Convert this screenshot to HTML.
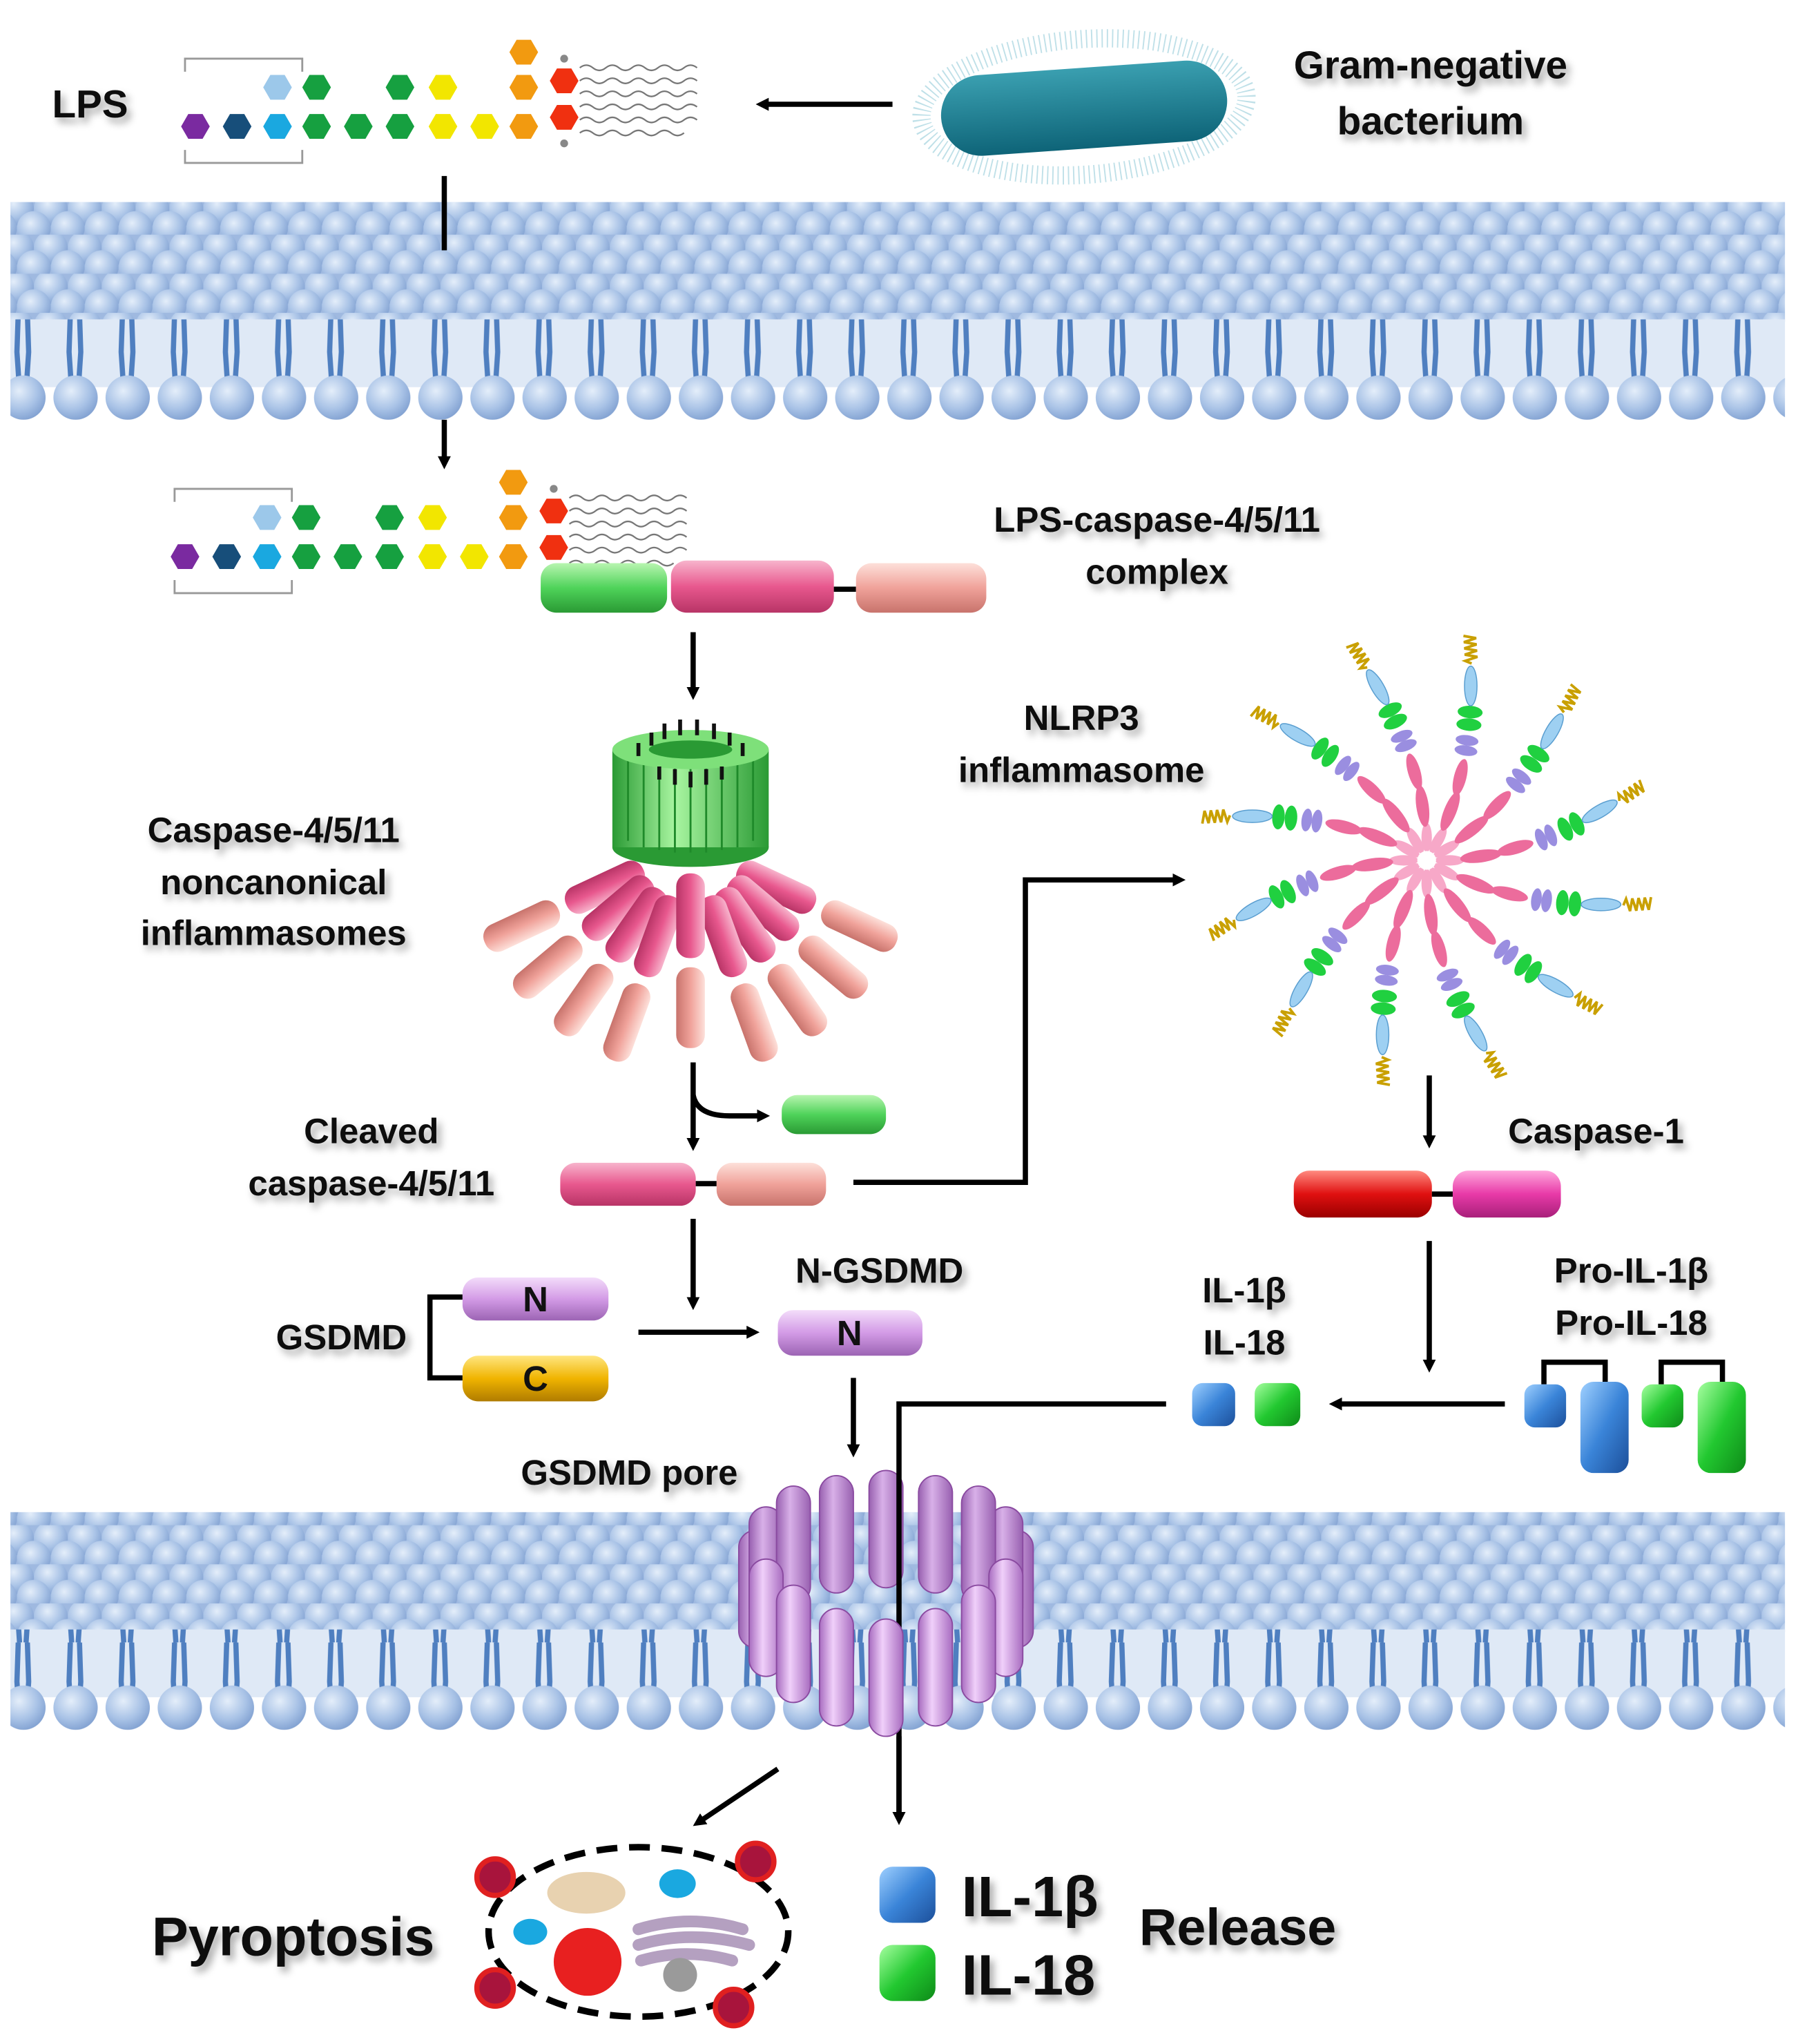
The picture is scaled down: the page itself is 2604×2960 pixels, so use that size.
<!DOCTYPE html>
<html><head><meta charset="utf-8"><style>
html,body{margin:0;padding:0;background:#fff}
svg{display:block}
text{font-family:"Liberation Sans",sans-serif;font-weight:bold;fill:#111}
</style></head><body>
<svg width="2604" height="2960" viewBox="0 0 1380 1568" preserveAspectRatio="none" xmlns="http://www.w3.org/2000/svg">
<defs>
<radialGradient id="ball" cx="0.4" cy="0.35" r="0.7"><stop offset="0" stop-color="#e4eefa"/><stop offset="0.6" stop-color="#a8c2e6"/><stop offset="1" stop-color="#7f9fd0"/></radialGradient>
<pattern id="heads" width="26" height="30" patternUnits="userSpaceOnUse">
<rect width="26" height="30" fill="#9fb9e0"/>
<circle cx="13" cy="10" r="13" fill="url(#ball)"/>
<circle cx="0" cy="25" r="13" fill="url(#ball)"/><circle cx="26" cy="25" r="13" fill="url(#ball)"/>
</pattern>
<pattern id="tails" width="40" height="60" patternUnits="userSpaceOnUse">
<rect width="40" height="60" fill="#dfe9f6"/>
<path d="M14 0 L13 30 L15 60 M21 0 L22 30 L20 60" stroke="#4f7fc0" stroke-width="4" fill="none"/>
</pattern>
<pattern id="bheads" y="285" width="40" height="40" patternUnits="userSpaceOnUse">
<circle cx="18" cy="20" r="17" fill="url(#ball)"/>
</pattern>
<pattern id="bheads2" y="1290" width="40" height="40" patternUnits="userSpaceOnUse">
<circle cx="18" cy="20" r="17" fill="url(#ball)"/>
</pattern>
<filter id="sh" x="-10%" y="-20%" width="130%" height="160%"><feDropShadow dx="3" dy="4" stdDeviation="3" flood-color="#000" flood-opacity="0.35"/></filter>
<linearGradient id="gG" x1="0" y1="0" x2="0" y2="1"><stop offset="0" stop-color="#b8f5b0"/><stop offset="0.5" stop-color="#4fd35a"/><stop offset="1" stop-color="#2a9a34"/></linearGradient>
<linearGradient id="gP" x1="0" y1="0" x2="0" y2="1"><stop offset="0" stop-color="#f7b4cc"/><stop offset="0.5" stop-color="#e8588e"/><stop offset="1" stop-color="#b83466"/></linearGradient>
<linearGradient id="gL" x1="0" y1="0" x2="0" y2="1"><stop offset="0" stop-color="#fde0da"/><stop offset="0.5" stop-color="#f0a29a"/><stop offset="1" stop-color="#c8736c"/></linearGradient>
<linearGradient id="gR" x1="0" y1="0" x2="0" y2="1"><stop offset="0" stop-color="#ff8a80"/><stop offset="0.5" stop-color="#e01010"/><stop offset="1" stop-color="#9a0000"/></linearGradient>
<linearGradient id="gM" x1="0" y1="0" x2="0" y2="1"><stop offset="0" stop-color="#ffa6dc"/><stop offset="0.5" stop-color="#e83aa8"/><stop offset="1" stop-color="#a8207a"/></linearGradient>
<linearGradient id="gV" x1="0" y1="0" x2="0" y2="1"><stop offset="0" stop-color="#f3dcfa"/><stop offset="0.5" stop-color="#d39be6"/><stop offset="1" stop-color="#9c64b4"/></linearGradient>
<linearGradient id="gVx" x1="0" y1="0" x2="1" y2="0"><stop offset="0" stop-color="#a86cc0"/><stop offset="0.4" stop-color="#f0d0fa"/><stop offset="1" stop-color="#a86cc0"/></linearGradient>
<linearGradient id="gVb" x1="0" y1="0" x2="1" y2="0"><stop offset="0" stop-color="#9860b0"/><stop offset="0.4" stop-color="#d8b0e8"/><stop offset="1" stop-color="#9860b0"/></linearGradient>
<linearGradient id="gY" x1="0" y1="0" x2="0" y2="1"><stop offset="0" stop-color="#ffe680"/><stop offset="0.5" stop-color="#f0b400"/><stop offset="1" stop-color="#b07c00"/></linearGradient>
<linearGradient id="gB" x1="0" y1="0" x2="1" y2="1"><stop offset="0" stop-color="#9fd0ff"/><stop offset="0.5" stop-color="#3a84d8"/><stop offset="1" stop-color="#1c4f9a"/></linearGradient>
<linearGradient id="gGr" x1="0" y1="0" x2="1" y2="1"><stop offset="0" stop-color="#a6ffa0"/><stop offset="0.5" stop-color="#22c830"/><stop offset="1" stop-color="#0e8a18"/></linearGradient>
<linearGradient id="gGx" x1="0" y1="0" x2="1" y2="0"><stop offset="0" stop-color="#2a9a34"/><stop offset="0.4" stop-color="#a8f5a0"/><stop offset="1" stop-color="#2a9a34"/></linearGradient>
<linearGradient id="teal" x1="0" y1="0" x2="0" y2="1"><stop offset="0" stop-color="#3a9fb0"/><stop offset="1" stop-color="#0e6478"/></linearGradient>
<marker id="ah" markerWidth="10" markerHeight="10" refX="5" refY="5" orient="auto" markerUnits="userSpaceOnUse" viewBox="0 0 10 10"><path d="M0 0 L10 5 L0 10 Z" fill="#000"/></marker>
<g id="arm">
 <ellipse cx="22" cy="0" rx="14" ry="5" fill="#f7a8c8"/>
 <ellipse cx="52" cy="-4" rx="20" ry="6" fill="#ec6c9c" transform="rotate(-8 52 -4)"/>
 <ellipse cx="85" cy="-12" rx="18" ry="6" fill="#ec6c9c" transform="rotate(-16 85 -12)"/>
 <ellipse cx="110" cy="-20" rx="5" ry="11" fill="#9a8ee0" transform="rotate(-22 110 -20)"/>
 <ellipse cx="119" cy="-24" rx="5" ry="11" fill="#9a8ee0" transform="rotate(-22 119 -24)"/>
 <ellipse cx="133" cy="-30" rx="6" ry="12" fill="#20d040" transform="rotate(-26 133 -30)"/>
 <ellipse cx="144" cy="-35" rx="6" ry="12" fill="#20d040" transform="rotate(-26 144 -35)"/>
 <ellipse cx="166" cy="-47" rx="19" ry="6" fill="#9ed0f2" stroke="#5a9ed0" stroke-width="1" transform="rotate(-30 166 -47)"/>
 <path d="M185 -57 l3 -6 l3 12 l3 -12 l3 12 l3 -12 l3 12 l3 -12 l3 12 l3 -12" stroke="#c9a000" stroke-width="2.5" fill="none" transform="rotate(-34 185 -57)"/>
</g>
<g id="hex"><polygon points="-11,0 -5.5,-9.5 5.5,-9.5 11,0 5.5,9.5 -5.5,9.5"/></g>
</defs>

<rect width="1380" height="1568" fill="#fff"/>

<!-- top membrane -->
<rect x="8" y="155" width="1362" height="92" fill="url(#heads)"/>
<rect x="8" y="245" width="1362" height="52" fill="url(#tails)"/>
<rect x="8" y="287" width="1362" height="36" fill="url(#bheads)"/>
<!-- bottom membrane -->
<rect x="8" y="1160" width="1362" height="92" fill="url(#heads)"/>
<rect x="8" y="1250" width="1362" height="52" fill="url(#tails)"/>
<rect x="8" y="1292" width="1362" height="36" fill="url(#bheads2)"/>

<!-- LPS top -->
<text x="40" y="90" font-size="30" filter="url(#sh)">LPS</text>
<g id="lps">
<path d="M142 55 V45 H232 V55 M142 115 V125 H232 V115" stroke="#999" stroke-width="1.5" fill="none"/>
<use href="#hex" x="150" y="97" fill="#7a2aa0"/>
<use href="#hex" x="182" y="97" fill="#174e7a"/>
<use href="#hex" x="213" y="97" fill="#1aa8e0"/>
<use href="#hex" x="213" y="67" fill="#9cc8ea"/>
<use href="#hex" x="243" y="97" fill="#16a040"/>
<use href="#hex" x="243" y="67" fill="#16a040"/>
<use href="#hex" x="275" y="97" fill="#16a040"/>
<use href="#hex" x="307" y="97" fill="#16a040"/>
<use href="#hex" x="307" y="67" fill="#16a040"/>
<use href="#hex" x="340" y="97" fill="#f2e600"/>
<use href="#hex" x="340" y="67" fill="#f2e600"/>
<use href="#hex" x="372" y="97" fill="#f2e600"/>
<use href="#hex" x="402" y="97" fill="#f29a10"/>
<use href="#hex" x="402" y="67" fill="#f29a10"/>
<use href="#hex" x="402" y="40" fill="#f29a10"/>
<use href="#hex" x="433" y="62" fill="#f03010"/>
<use href="#hex" x="433" y="90" fill="#f03010"/>
<circle cx="433" cy="45" r="3" fill="#888"/><circle cx="433" cy="110" r="3" fill="#888"/>
<path d="M445 52 q5 -4 10 0 t10 0 t10 0 t10 0 t10 0 t10 0 t10 0 t10 0 t10 0 M445 62 q5 -4 10 0 t10 0 t10 0 t10 0 t10 0 t10 0 t10 0 t10 0 t10 0 M445 72 q5 -4 10 0 t10 0 t10 0 t10 0 t10 0 t10 0 t10 0 t10 0 t10 0 M445 82 q5 -4 10 0 t10 0 t10 0 t10 0 t10 0 t10 0 t10 0 t10 0 t10 0 M445 92 q5 -4 10 0 t10 0 t10 0 t10 0 t10 0 t10 0 t10 0 t10 0 t10 0 M445 102 q5 -4 10 0 t10 0 t10 0 t10 0 t10 0 t10 0 t10 0 t10 0" stroke="#777" stroke-width="1.2" fill="none"/>
</g>
<line x1="685" y1="80" x2="585" y2="80" stroke="#000" stroke-width="4" marker-end="url(#ah)"/>
<!-- bacterium -->
<g transform="rotate(-4 832 82)">
<ellipse cx="832" cy="82" rx="125" ry="52" fill="none" stroke="#bfe0e8" stroke-width="14" stroke-dasharray="1 3"/>
<rect x="722" y="52" width="220" height="62" rx="31" fill="url(#teal)"/>
</g>
<text x="1098" y="60" font-size="30" text-anchor="middle" filter="url(#sh)">Gram-negative</text>
<text x="1098" y="103" font-size="30" text-anchor="middle" filter="url(#sh)">bacterium</text>

<line x1="341" y1="135" x2="341" y2="192" stroke="#000" stroke-width="4"/>
<line x1="341" y1="322" x2="341" y2="355" stroke="#000" stroke-width="4" marker-end="url(#ah)"/>

<use href="#lps" transform="translate(-8 330)"/>

<!-- complex -->
<rect x="415" y="432" width="97" height="38" rx="12" fill="url(#gG)"/>
<rect x="515" y="430" width="125" height="40" rx="12" fill="url(#gP)"/>
<line x1="640" y1="452" x2="657" y2="452" stroke="#000" stroke-width="4"/>
<rect x="657" y="432" width="100" height="38" rx="12" fill="url(#gL)"/>
<text x="888" y="408" font-size="27" text-anchor="middle" filter="url(#sh)">LPS-caspase-4/5/11</text>
<text x="888" y="448" font-size="27" text-anchor="middle" filter="url(#sh)">complex</text>

<line x1="532" y1="485" x2="532" y2="532" stroke="#000" stroke-width="4" marker-end="url(#ah)"/>

<!-- noncanonical inflammasome -->
<g>
<g transform="translate(530 650) rotate(25)"><rect x="40" y="-11" width="65" height="22" rx="10" fill="url(#gP)"/><rect x="112" y="-11" width="62" height="22" rx="10" fill="url(#gL)"/></g>
<g transform="translate(530 650) rotate(155)"><rect x="40" y="-11" width="65" height="22" rx="10" fill="url(#gP)"/><rect x="112" y="-11" width="62" height="22" rx="10" fill="url(#gL)"/></g>
<g transform="translate(530 650) rotate(40)"><rect x="40" y="-11" width="65" height="22" rx="10" fill="url(#gP)"/><rect x="112" y="-11" width="62" height="22" rx="10" fill="url(#gL)"/></g>
<g transform="translate(530 650) rotate(140)"><rect x="40" y="-11" width="65" height="22" rx="10" fill="url(#gP)"/><rect x="112" y="-11" width="62" height="22" rx="10" fill="url(#gL)"/></g>
<g transform="translate(530 650) rotate(55)"><rect x="40" y="-11" width="65" height="22" rx="10" fill="url(#gP)"/><rect x="112" y="-11" width="62" height="22" rx="10" fill="url(#gL)"/></g>
<g transform="translate(530 650) rotate(125)"><rect x="40" y="-11" width="65" height="22" rx="10" fill="url(#gP)"/><rect x="112" y="-11" width="62" height="22" rx="10" fill="url(#gL)"/></g>
<g transform="translate(530 650) rotate(70)"><rect x="40" y="-11" width="65" height="22" rx="10" fill="url(#gP)"/><rect x="112" y="-11" width="62" height="22" rx="10" fill="url(#gL)"/></g>
<g transform="translate(530 650) rotate(110)"><rect x="40" y="-11" width="65" height="22" rx="10" fill="url(#gP)"/><rect x="112" y="-11" width="62" height="22" rx="10" fill="url(#gL)"/></g>
<g transform="translate(530 650) rotate(90)"><rect x="20" y="-11" width="65" height="22" rx="10" fill="url(#gP)"/><rect x="92" y="-11" width="62" height="22" rx="10" fill="url(#gL)"/></g>
<ellipse cx="530" cy="650" rx="60" ry="15" fill="#2a9a34"/>
<rect x="470" y="575" width="120" height="75" fill="url(#gGx)"/>
<path d="M482 580 V645 M494 582 V650 M506 582 V652 M518 582 V654 M530 582 V654 M542 582 V654 M554 582 V652 M566 582 V650 M578 580 V645" stroke="#1f8a2a" stroke-width="1.5"/>
<ellipse cx="530" cy="575" rx="60" ry="15" fill="#7ee07a"/>
<ellipse cx="530" cy="575" rx="32" ry="7" fill="#2a9a34"/>
<path d="M510 555 v12 M522 552 v12 M535 552 v12 M548 555 v12 M500 562 v10 M560 562 v10 M490 570 v10 M570 570 v10 M518 590 v12 M530 592 v12 M542 590 v12 M506 588 v10 M554 588 v10" stroke="#111" stroke-width="3"/>
</g>
<text x="210" y="646" font-size="27" text-anchor="middle" filter="url(#sh)">Caspase-4/5/11</text>
<text x="210" y="686" font-size="27" text-anchor="middle" filter="url(#sh)">noncanonical</text>
<text x="210" y="725" font-size="27" text-anchor="middle" filter="url(#sh)">inflammasomes</text>

<text x="830" y="560" font-size="27" text-anchor="middle" filter="url(#sh)">NLRP3</text>
<text x="830" y="600" font-size="27" text-anchor="middle" filter="url(#sh)">inflammasome</text>

<!-- NLRP3 starburst -->
<g transform="translate(1095 660) scale(0.8)">
<use href="#arm" transform="rotate(0)"/><use href="#arm" transform="rotate(30)"/><use href="#arm" transform="rotate(60)"/><use href="#arm" transform="rotate(90)"/>
<use href="#arm" transform="rotate(120)"/><use href="#arm" transform="rotate(150)"/><use href="#arm" transform="rotate(180)"/><use href="#arm" transform="rotate(210)"/>
<use href="#arm" transform="rotate(240)"/><use href="#arm" transform="rotate(270)"/><use href="#arm" transform="rotate(300)"/><use href="#arm" transform="rotate(330)"/>
<circle r="9" fill="#fff"/>
</g>

<!-- cleaved -->
<line x1="532" y1="815" x2="532" y2="878" stroke="#000" stroke-width="4" marker-end="url(#ah)"/>
<path d="M532 840 Q535 856 560 856 L586 856" stroke="#000" stroke-width="4" fill="none" marker-end="url(#ah)"/>
<rect x="600" y="840" width="80" height="30" rx="12" fill="url(#gG)"/>
<text x="285" y="877" font-size="27" text-anchor="middle" filter="url(#sh)">Cleaved</text>
<text x="285" y="917" font-size="27" text-anchor="middle" filter="url(#sh)">caspase-4/5/11</text>
<rect x="430" y="892" width="104" height="33" rx="12" fill="url(#gP)"/>
<line x1="534" y1="908" x2="550" y2="908" stroke="#000" stroke-width="4"/>
<rect x="550" y="892" width="84" height="33" rx="12" fill="url(#gL)"/>
<path d="M655 907 H787 V675 H905" stroke="#000" stroke-width="4" fill="none" marker-end="url(#ah)"/>

<!-- caspase-1 -->
<line x1="1097" y1="825" x2="1097" y2="876" stroke="#000" stroke-width="4" marker-end="url(#ah)"/>
<text x="1225" y="877" font-size="27" text-anchor="middle" filter="url(#sh)">Caspase-1</text>
<rect x="993" y="898" width="106" height="36" rx="12" fill="url(#gR)"/>
<line x1="1099" y1="916" x2="1115" y2="916" stroke="#000" stroke-width="4"/>
<rect x="1115" y="898" width="83" height="36" rx="12" fill="url(#gM)"/>
<line x1="1097" y1="952" x2="1097" y2="1048" stroke="#000" stroke-width="4" marker-end="url(#ah)"/>

<text x="1252" y="984" font-size="27" text-anchor="middle" filter="url(#sh)">Pro-IL-1β</text>
<text x="1252" y="1024" font-size="27" text-anchor="middle" filter="url(#sh)">Pro-IL-18</text>
<text x="955" y="999" font-size="27" text-anchor="middle" filter="url(#sh)">IL-1β</text>
<text x="955" y="1039" font-size="27" text-anchor="middle" filter="url(#sh)">IL-18</text>

<path d="M1185 1062 V1045 H1232 V1062 M1275 1062 V1045 H1322 V1062" stroke="#000" stroke-width="4" fill="none"/>
<rect x="1170" y="1062" width="32" height="33" rx="8" fill="url(#gB)"/>
<rect x="1213" y="1060" width="37" height="70" rx="10" fill="url(#gB)"/>
<rect x="1260" y="1062" width="32" height="33" rx="8" fill="url(#gGr)"/>
<rect x="1303" y="1060" width="37" height="70" rx="10" fill="url(#gGr)"/>
<line x1="1155" y1="1077" x2="1025" y2="1077" stroke="#000" stroke-width="4" marker-end="url(#ah)"/>
<rect x="915" y="1061" width="33" height="33" rx="8" fill="url(#gB)"/>
<rect x="963" y="1061" width="35" height="33" rx="8" fill="url(#gGr)"/>

<!-- GSDMD -->
<line x1="532" y1="935" x2="532" y2="1000" stroke="#000" stroke-width="4" marker-end="url(#ah)"/>
<text x="262" y="1035" font-size="27" text-anchor="middle" filter="url(#sh)">GSDMD</text>
<path d="M355 995 H330 V1057 H355" stroke="#000" stroke-width="4" fill="none"/>
<rect x="355" y="980" width="112" height="33" rx="12" fill="url(#gV)"/>
<text x="411" y="1006" font-size="27" text-anchor="middle">N</text>
<rect x="355" y="1040" width="112" height="35" rx="12" fill="url(#gY)"/>
<text x="411" y="1067" font-size="27" text-anchor="middle">C</text>
<line x1="490" y1="1022" x2="578" y2="1022" stroke="#000" stroke-width="4" marker-end="url(#ah)"/>
<text x="675" y="984" font-size="27" text-anchor="middle" filter="url(#sh)">N-GSDMD</text>
<rect x="597" y="1005" width="111" height="35" rx="12" fill="url(#gV)"/>
<text x="652" y="1032" font-size="27" text-anchor="middle">N</text>
<line x1="655" y1="1057" x2="655" y2="1113" stroke="#000" stroke-width="4" marker-end="url(#ah)"/>
<text x="483" y="1139" font-size="27" text-anchor="middle" filter="url(#sh)">GSDMD pore</text>

<!-- pore: back row -->
<g stroke="#8a4aa0" stroke-width="1">
<rect x="567" y="1174" width="26" height="90" rx="13" fill="url(#gVb)"/>
<rect x="767" y="1174" width="26" height="90" rx="13" fill="url(#gVb)"/>
<rect x="575" y="1156" width="26" height="90" rx="13" fill="url(#gVb)"/>
<rect x="759" y="1156" width="26" height="90" rx="13" fill="url(#gVb)"/>
<rect x="596" y="1140" width="26" height="90" rx="13" fill="url(#gVb)"/>
<rect x="738" y="1140" width="26" height="90" rx="13" fill="url(#gVb)"/>
<rect x="629" y="1132" width="26" height="90" rx="13" fill="url(#gVb)"/>
<rect x="705" y="1132" width="26" height="90" rx="13" fill="url(#gVb)"/>
<rect x="667" y="1128" width="26" height="90" rx="13" fill="url(#gVb)"/>
</g>
<path d="M895 1077 H690 V1395" stroke="#000" stroke-width="4" fill="none" marker-end="url(#ah)"/>
<!-- pore: front row -->
<g stroke="#8a4aa0" stroke-width="1">
<rect x="575" y="1196" width="26" height="90" rx="13" fill="url(#gVx)"/>
<rect x="759" y="1196" width="26" height="90" rx="13" fill="url(#gVx)"/>
<rect x="596" y="1216" width="26" height="90" rx="13" fill="url(#gVx)"/>
<rect x="738" y="1216" width="26" height="90" rx="13" fill="url(#gVx)"/>
<rect x="629" y="1234" width="26" height="90" rx="13" fill="url(#gVx)"/>
<rect x="705" y="1234" width="26" height="90" rx="13" fill="url(#gVx)"/>
<rect x="667" y="1242" width="26" height="90" rx="13" fill="url(#gVx)"/>
</g>
<line x1="690" y1="1332" x2="690" y2="1395" stroke="#000" stroke-width="4" marker-end="url(#ah)"/>

<!-- pyroptosis -->
<line x1="597" y1="1357" x2="536" y2="1398" stroke="#000" stroke-width="4" marker-end="url(#ah)"/>
<text x="225" y="1500" font-size="42" text-anchor="middle" filter="url(#sh)">Pyroptosis</text>
<ellipse cx="490" cy="1482" rx="115" ry="65" fill="none" stroke="#000" stroke-width="5" stroke-dasharray="16 9"/>
<g fill="#a8143c" stroke="#e02020" stroke-width="4">
<circle cx="380" cy="1440" r="14"/><circle cx="580" cy="1428" r="14"/><circle cx="380" cy="1525" r="14"/><circle cx="563" cy="1540" r="14"/>
</g>
<ellipse cx="450" cy="1452" rx="30" ry="16" fill="#e8d2b0"/>
<ellipse cx="520" cy="1445" rx="14" ry="11" fill="#1aa8e0"/>
<ellipse cx="407" cy="1482" rx="13" ry="10" fill="#1aa8e0"/>
<circle cx="451" cy="1505" r="26" fill="#e82020"/>
<path d="M490 1480 q40 -12 80 0 M490 1492 q40 -12 85 0 M492 1504 q35 -10 70 0" stroke="#b4a0c0" stroke-width="9" fill="none" stroke-linecap="round"/>
<circle cx="522" cy="1515" r="13" fill="#9a9a9a"/>

<rect x="675" y="1432" width="43" height="43" rx="10" fill="url(#gB)"/>
<rect x="675" y="1492" width="43" height="43" rx="10" fill="url(#gGr)"/>
<text x="738" y="1470" font-size="44" filter="url(#sh)">IL-1β</text>
<text x="738" y="1530" font-size="44" filter="url(#sh)">IL-18</text>
<text x="950" y="1492" font-size="40" text-anchor="middle" filter="url(#sh)">Release</text>
</svg>
</body></html>
